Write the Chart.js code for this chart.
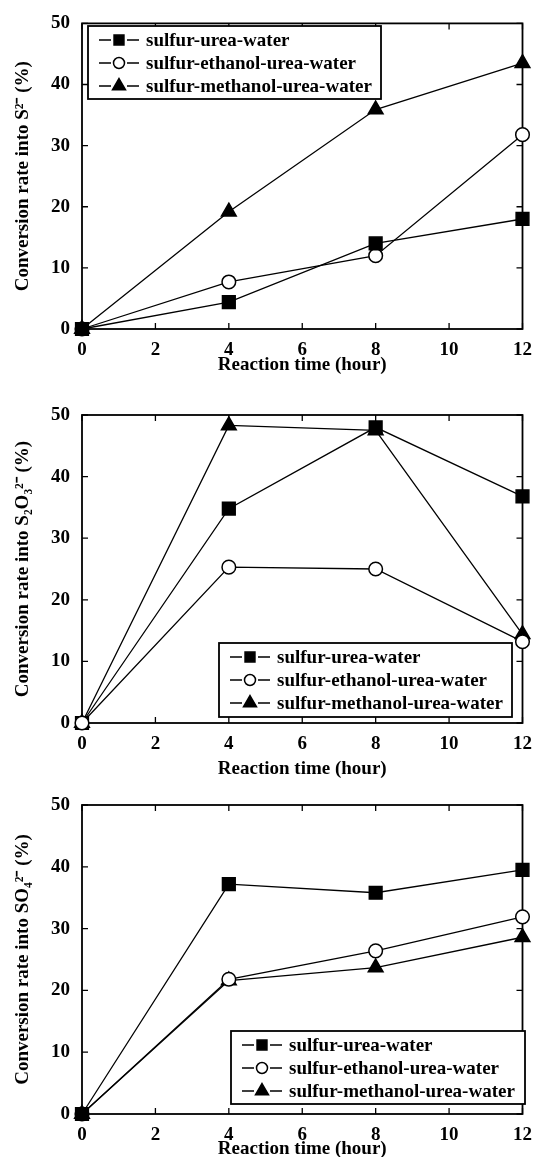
<!DOCTYPE html>
<html>
<head>
<meta charset="utf-8">
<script src="https://cdn.jsdelivr.net/npm/chart.js@4.4.1/dist/chart.umd.min.js"></script>
<style>
  html, body { margin: 0; padding: 0; background: #fff; }
  .panel { position: absolute; left: 0; width: 542px; }
</style>
</head>
<body>
<div class="panel" style="top:0;height:390px"><canvas id="c1"></canvas></div>
<div class="panel" style="top:390px;height:390px"><canvas id="c2"></canvas></div>
<div class="panel" style="top:780px;height:377px"><canvas id="c3"></canvas></div>
<script>
'use strict';

// ── data ──
const hours = [0, 4, 8, 12];
const seriesNames = ['sulfur-urea-water', 'sulfur-ethanol-urea-water', 'sulfur-methanol-urea-water'];
const xTicks = [0, 2, 4, 6, 8, 10, 12];
const yTicks = [0, 10, 20, 30, 40, 50];

// conversion into S2-
const s2Urea = [0, 4.4, 14.0, 18.0];
const s2Ethanol = [0, 7.7, 12.0, 31.8];
const s2Methanol = [0, 19.2, 35.9, 43.5];

// conversion into S2O3 2-
const s2o3Urea = [0, 34.8, 48.0, 36.8];
const s2o3Ethanol = [0, 25.3, 25.0, 13.2];
const s2o3Methanol = [0, 48.3, 47.5, 14.4];

// conversion into SO4 2-
const so4Urea = [0, 37.2, 35.8, 39.5];
const so4Ethanol = [0, 21.8, 26.4, 31.9];
const so4Methanol = [0, 21.6, 23.7, 28.6];

const FONT = '"Liberation Serif", "Times New Roman", serif';
const font19 = { family: FONT, size: 19, weight: 'bold' };

function drawMarker(ctx, style, x, y, r, fill) {
  ctx.beginPath();
  if (style === 'rect') {
    const s = r * Math.SQRT1_2;
    ctx.rect(x - s, y - s, 2 * s, 2 * s);
  } else if (style === 'circle') {
    ctx.arc(x, y, r, 0, Math.PI * 2);
  } else {
    ctx.moveTo(x, y - r);
    ctx.lineTo(x + r * Math.sin(Math.PI / 3), y + r / 2);
    ctx.lineTo(x - r * Math.sin(Math.PI / 3), y + r / 2);
    ctx.closePath();
  }
  ctx.fillStyle = fill;
  ctx.fill();
  ctx.lineWidth = 1.5;
  ctx.strokeStyle = '#000';
  ctx.stroke();
}

// box + inward ticks on all four sides
const framePlugin = {
  id: 'frame',
  beforeDatasetsDraw(chart) {
    const { ctx, chartArea: a, scales: { x, y } } = chart;
    ctx.save();
    ctx.strokeStyle = '#000';
    ctx.lineWidth = 1.8;
    ctx.strokeRect(a.left, a.top, a.right - a.left, a.bottom - a.top);
    ctx.lineWidth = 1.3;
    ctx.beginPath();
    x.ticks.forEach(t => {
      const px = x.getPixelForValue(t.value);
      ctx.moveTo(px, a.bottom); ctx.lineTo(px, a.bottom - 6);
      ctx.moveTo(px, a.top); ctx.lineTo(px, a.top + 6);
    });
    y.ticks.forEach(t => {
      const py = y.getPixelForValue(t.value);
      ctx.moveTo(a.left, py); ctx.lineTo(a.left + 6, py);
      ctx.moveTo(a.right, py); ctx.lineTo(a.right - 6, py);
    });
    ctx.stroke();
    ctx.restore();
  }
};

// framed legend sitting inside the plot
const legendPlugin = {
  id: 'boxLegend',
  afterDatasetsDraw(chart, args, o) {
    const ctx = chart.ctx;
    ctx.save();
    ctx.fillStyle = '#fff';
    ctx.fillRect(o.x, o.y, o.w, o.h);
    ctx.strokeStyle = '#000';
    ctx.lineWidth = 1.8;
    ctx.strokeRect(o.x, o.y, o.w, o.h);
    const sizes = { rect: 7, circle: 5.5, triangle: 7.5 };
    chart.data.datasets.forEach((ds, i) => {
      const cy = o.y + 14 + i * 23;
      ctx.strokeStyle = '#000';
      ctx.lineWidth = 1.3;
      ctx.beginPath();
      ctx.moveTo(o.x + 11, cy); ctx.lineTo(o.x + 23, cy);
      ctx.moveTo(o.x + 39, cy); ctx.lineTo(o.x + 51, cy);
      ctx.stroke();
      drawMarker(ctx, ds.pointStyle, o.x + 31, cy, sizes[ds.pointStyle], ds.pointBackgroundColor);
      ctx.fillStyle = '#000';
      ctx.font = 'bold 19px ' + FONT;
      ctx.textBaseline = 'middle';
      ctx.fillText(ds.label, o.x + 58, cy + 1);
    });
    ctx.restore();
  }
};

function series(values, i, style, radius, fill, order) {
  return {
    label: seriesNames[i],
    data: values.map((v, k) => ({ x: hours[k], y: v })),
    borderColor: '#000',
    borderWidth: 1.3,
    pointStyle: style,
    pointRadius: radius,
    pointBackgroundColor: fill,
    pointBorderColor: '#000',
    pointBorderWidth: 1.5,
    fill: false,
    tension: 0,
    clip: false,
    order: order || 0
  };
}

function makePanel(id, yTitle, urea, ethanol, methanol, lay) {
  new Chart(document.getElementById(id), {
    type: 'line',
    data: {
      datasets: [
        series(urea, 0, 'rect', 9, '#000', lay.orders[0]),
        series(ethanol, 1, 'circle', 6.8, '#fff', lay.orders[1]),
        series(methanol, 2, 'triangle', 8.5, '#000', lay.orders[2])
      ]
    },
    options: {
      responsive: true,
      maintainAspectRatio: false,
      animation: false,
      events: [],
      layout: { padding: { top: lay.top, bottom: lay.bottom, left: 0, right: 15 } },
      plugins: {
        legend: { display: false },
        tooltip: { enabled: false },
        boxLegend: lay.legend
      },
      scales: {
        x: {
          type: 'linear', min: 0, max: 12,
          afterBuildTicks: s => { s.ticks = xTicks.map(v => ({ value: v })); },
          afterFit: s => { s.height = lay.xh; },
          grid: { display: false, drawTicks: false },
          border: { display: false },
          ticks: { color: '#000', font: font19, padding: 10 },
          title: {
            display: true, text: 'Reaction time (hour)', color: '#000',
            font: { ...font19, lineHeight: 1 }, padding: { top: 0, bottom: lay.tpad }
          }
        },
        y: {
          min: 0, max: 50,
          afterBuildTicks: s => { s.ticks = yTicks.map(v => ({ value: v })); },
          afterFit: s => { s.width = 82; },
          grid: { display: false, drawTicks: false },
          border: { display: false },
          ticks: { color: '#000', font: font19, padding: 12 },
          title: {
            display: true, text: yTitle, color: '#000',
            font: { ...font19, lineHeight: 1 }, padding: { top: 14, bottom: 0 }
          }
        }
      }
    },
    plugins: [framePlugin, legendPlugin]
  });
}

makePanel('c1', 'Conversion rate into S\u00B2\u207B (%)', s2Urea, s2Ethanol, s2Methanol, {
  top: 20, bottom: 15, xh: 46, tpad: 0, orders: [0, 1, 2],
  legend: { x: 88, y: 26, w: 293, h: 73 }
});
makePanel('c2', 'Conversion rate into S\u2082O\u2083\u00B2\u207B (%)', s2o3Urea, s2o3Ethanol, s2o3Methanol, {
  top: 25, bottom: 1, xh: 56, tpad: 0, orders: [1, -1, 0],
  legend: { x: 219, y: 253, w: 293, h: 74 }
});
makePanel('c3', 'Conversion rate into SO\u2084\u00B2\u207B (%)', so4Urea, so4Ethanol, so4Methanol, {
  top: 25, bottom: 0, xh: 43, tpad: -2, orders: [0, 1, 2],
  legend: { x: 231, y: 251, w: 294, h: 73 }
});
</script>
</body>
</html>
